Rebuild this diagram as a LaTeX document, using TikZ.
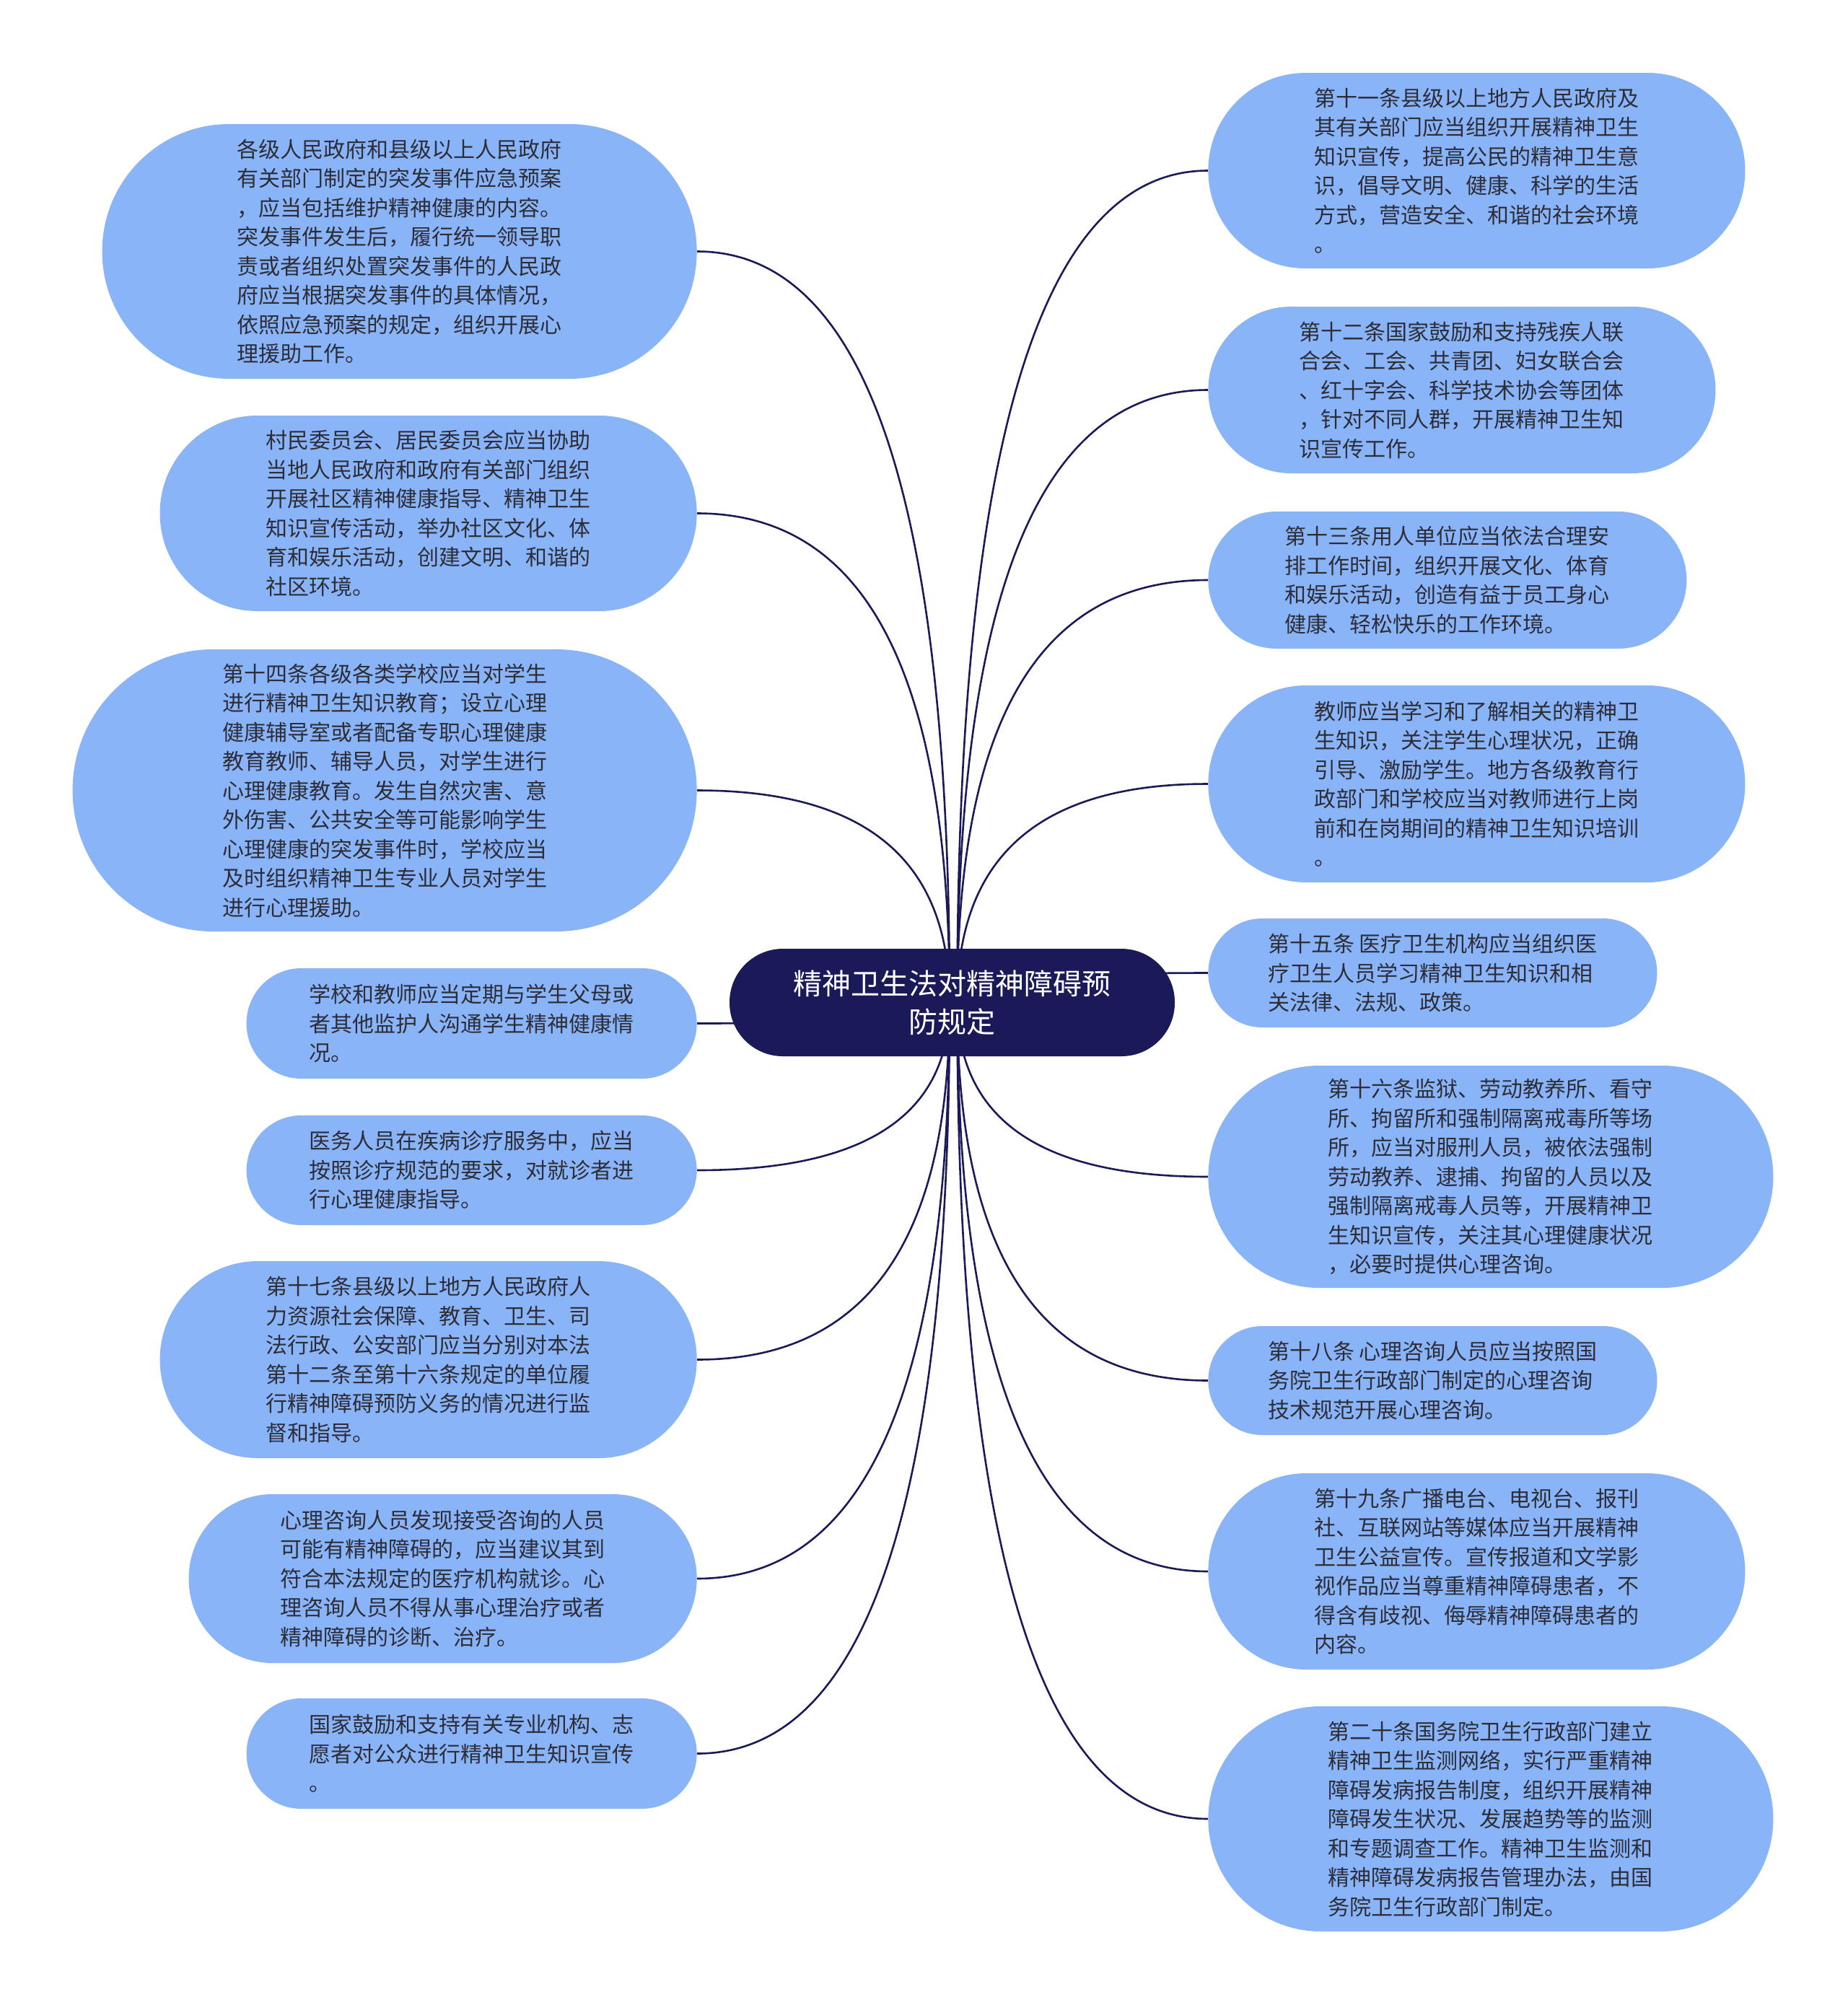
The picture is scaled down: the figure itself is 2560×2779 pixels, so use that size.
\documentclass[tikz,border=0pt]{standalone}
\usepackage{fontspec}
\newfontfamily\cjk{Noto Sans CJK SC}
\usetikzlibrary{calc,backgrounds}
\definecolor{leafblue}{RGB}{138,180,248}
\definecolor{hubnavy}{RGB}{27,26,88}
\definecolor{inkgray}{RGB}{45,45,55}

\begin{document}
\begin{tikzpicture}[x=0.5pt,y=-0.5pt,
  leaf/.style={fill=leafblue,text=inkgray,align=left,inner sep=0pt,
    font=\cjk\fontsize{15}{20.25}\selectfont},
  hub/.style={fill=hubnavy,text=white,align=center,inner sep=0pt,
    font=\cjk\fontsize{20}{26.6}\selectfont,
    minimum width=308.5pt,minimum height=74.5pt,rounded corners=37pt},
  link/.style={draw=hubnavy,line width=1.3pt}]

  % centre
  \node[hub] (hub) at (1319.5,1389.5) {精神卫生法对精神障碍预\\防规定};
  \coordinate (hubl) at ([xshift=-1.75pt]hub.center);
  \coordinate (hubr) at ([xshift=3.5pt]hub.center);

  % left branch
  \foreach \name/\y/\w/\h/\r/\txt in {
    l1/348.5/412/176.5/88/{各级人民政府和县级以上人民政府\\有关部门制定的突发事件应急预案\\，应当包括维护精神健康的内容。\\突发事件发生后，履行统一领导职\\责或者组织处置突发事件的人民政\\府应当根据突发事件的具体情况，\\依照应急预案的规定，组织开展心\\理援助工作。},
    l2/711.5/372/135.5/67.5/{村民委员会、居民委员会应当协助\\当地人民政府和政府有关部门组织\\开展社区精神健康指导、精神卫生\\知识宣传活动，举办社区文化、体\\育和娱乐活动，创建文明、和谐的\\社区环境。},
    l3/1095.5/432.5/195.5/97.5/{第十四条各级各类学校应当对学生\\进行精神卫生知识教育；设立心理\\健康辅导室或者配备专职心理健康\\教育教师、辅导人员，对学生进行\\心理健康教育。发生自然灾害、意\\外伤害、公共安全等可能影响学生\\心理健康的突发事件时，学校应当\\及时组织精神卫生专业人员对学生\\进行心理援助。},
    l4/1418.5/312/76.5/38/{学校和教师应当定期与学生父母或\\者其他监护人沟通学生精神健康情\\况。},
    l5/1622/312/76/38/{医务人员在疾病诊疗服务中，应当\\按照诊疗规范的要求，对就诊者进\\行心理健康指导。},
    l6/1884.5/372/136.5/68/{第十七条县级以上地方人民政府人\\力资源社会保障、教育、卫生、司\\法行政、公安部门应当分别对本法\\第十二条至第十六条规定的单位履\\行精神障碍预防义务的情况进行监\\督和指导。},
    l7/2188/352/117/58/{心理咨询人员发现接受咨询的人员\\可能有精神障碍的，应当建议其到\\符合本法规定的医疗机构就诊。心\\理咨询人员不得从事心理治疗或者\\精神障碍的诊断、治疗。},
    l8/2430.5/312/76.5/38/{国家鼓励和支持有关专业机构、志\\愿者对公众进行精神卫生知识宣传\\。}}{
    \node[leaf,anchor=east,minimum width=\w pt,minimum height=\h pt,
      rounded corners=\r pt] (\name) at (966,\y) {\txt};
  }

  % right branch
  \foreach \name/\y/\w/\h/\r/\txt in {
    r1/236.5/372/135.5/67.5/{第十一条县级以上地方人民政府及\\其有关部门应当组织开展精神卫生\\知识宣传，提高公民的精神卫生意\\识，倡导文明、健康、科学的生活\\方式，营造安全、和谐的社会环境\\。},
    r2/540.5/351.5/115.5/57.5/{第十二条国家鼓励和支持残疾人联\\合会、工会、共青团、妇女联合会\\、红十字会、科学技术协会等团体\\，针对不同人群，开展精神卫生知\\识宣传工作。},
    r3/804/331.5/95/47.5/{第十三条用人单位应当依法合理安\\排工作时间，组织开展文化、体育\\和娱乐活动，创造有益于员工身心\\健康、轻松快乐的工作环境。},
    r4/1086.5/372/136.5/68/{教师应当学习和了解相关的精神卫\\生知识，关注学生心理状况，正确\\引导、激励学生。地方各级教育行\\政部门和学校应当对教师进行上岗\\前和在岗期间的精神卫生知识培训\\。},
    r5/1348.5/311/75.5/37.5/{第十五条 医疗卫生机构应当组织医\\疗卫生人员学习精神卫生知识和相\\关法律、法规、政策。},
    r6/1631/391.5/154/77/{第十六条监狱、劳动教养所、看守\\所、拘留所和强制隔离戒毒所等场\\所，应当对服刑人员，被依法强制\\劳动教养、逮捕、拘留的人员以及\\强制隔离戒毒人员等，开展精神卫\\生知识宣传，关注其心理健康状况\\，必要时提供心理咨询。},
    r7/1913.5/311/75.5/37.5/{第十八条 心理咨询人员应当按照国\\务院卫生行政部门制定的心理咨询\\技术规范开展心理咨询。},
    r8/2178/372/136/68/{第十九条广播电台、电视台、报刊\\社、互联网站等媒体应当开展精神\\卫生公益宣传。宣传报道和文学影\\视作品应当尊重精神障碍患者，不\\得含有歧视、侮辱精神障碍患者的\\内容。},
    r9/2521/391.5/156/78/{第二十条国务院卫生行政部门建立\\精神卫生监测网络，实行严重精神\\障碍发病报告制度，组织开展精神\\障碍发生状况、发展趋势等的监测\\和专题调查工作。精神卫生监测和\\精神障碍发病报告管理办法，由国\\务院卫生行政部门制定。}}{
    \node[leaf,anchor=west,minimum width=\w pt,minimum height=\h pt,
      rounded corners=\r pt] (\name) at (1674,\y) {\txt};
  }

  % connectors, under the nodes
  \begin{scope}[on background layer]
    \path[fill=white] (0,0) rectangle (2560,2779);
    \foreach \leaf in {l1,l2,l3,l4,l5,l6,l7,l8}
      \draw[link] (hubl) .. controls ($(hubl)!.67!(hubl |- \leaf.east)$)
        and ($(\leaf.east)!.67!(hubl |- \leaf.east)$) .. (\leaf.east);
    \foreach \leaf in {r1,r2,r3,r4,r5,r6,r7,r8,r9}
      \draw[link] (hubr) .. controls ($(hubr)!.67!(hubr |- \leaf.west)$)
        and ($(\leaf.west)!.67!(hubr |- \leaf.west)$) .. (\leaf.west);
  \end{scope}
\end{tikzpicture}
\end{document}
